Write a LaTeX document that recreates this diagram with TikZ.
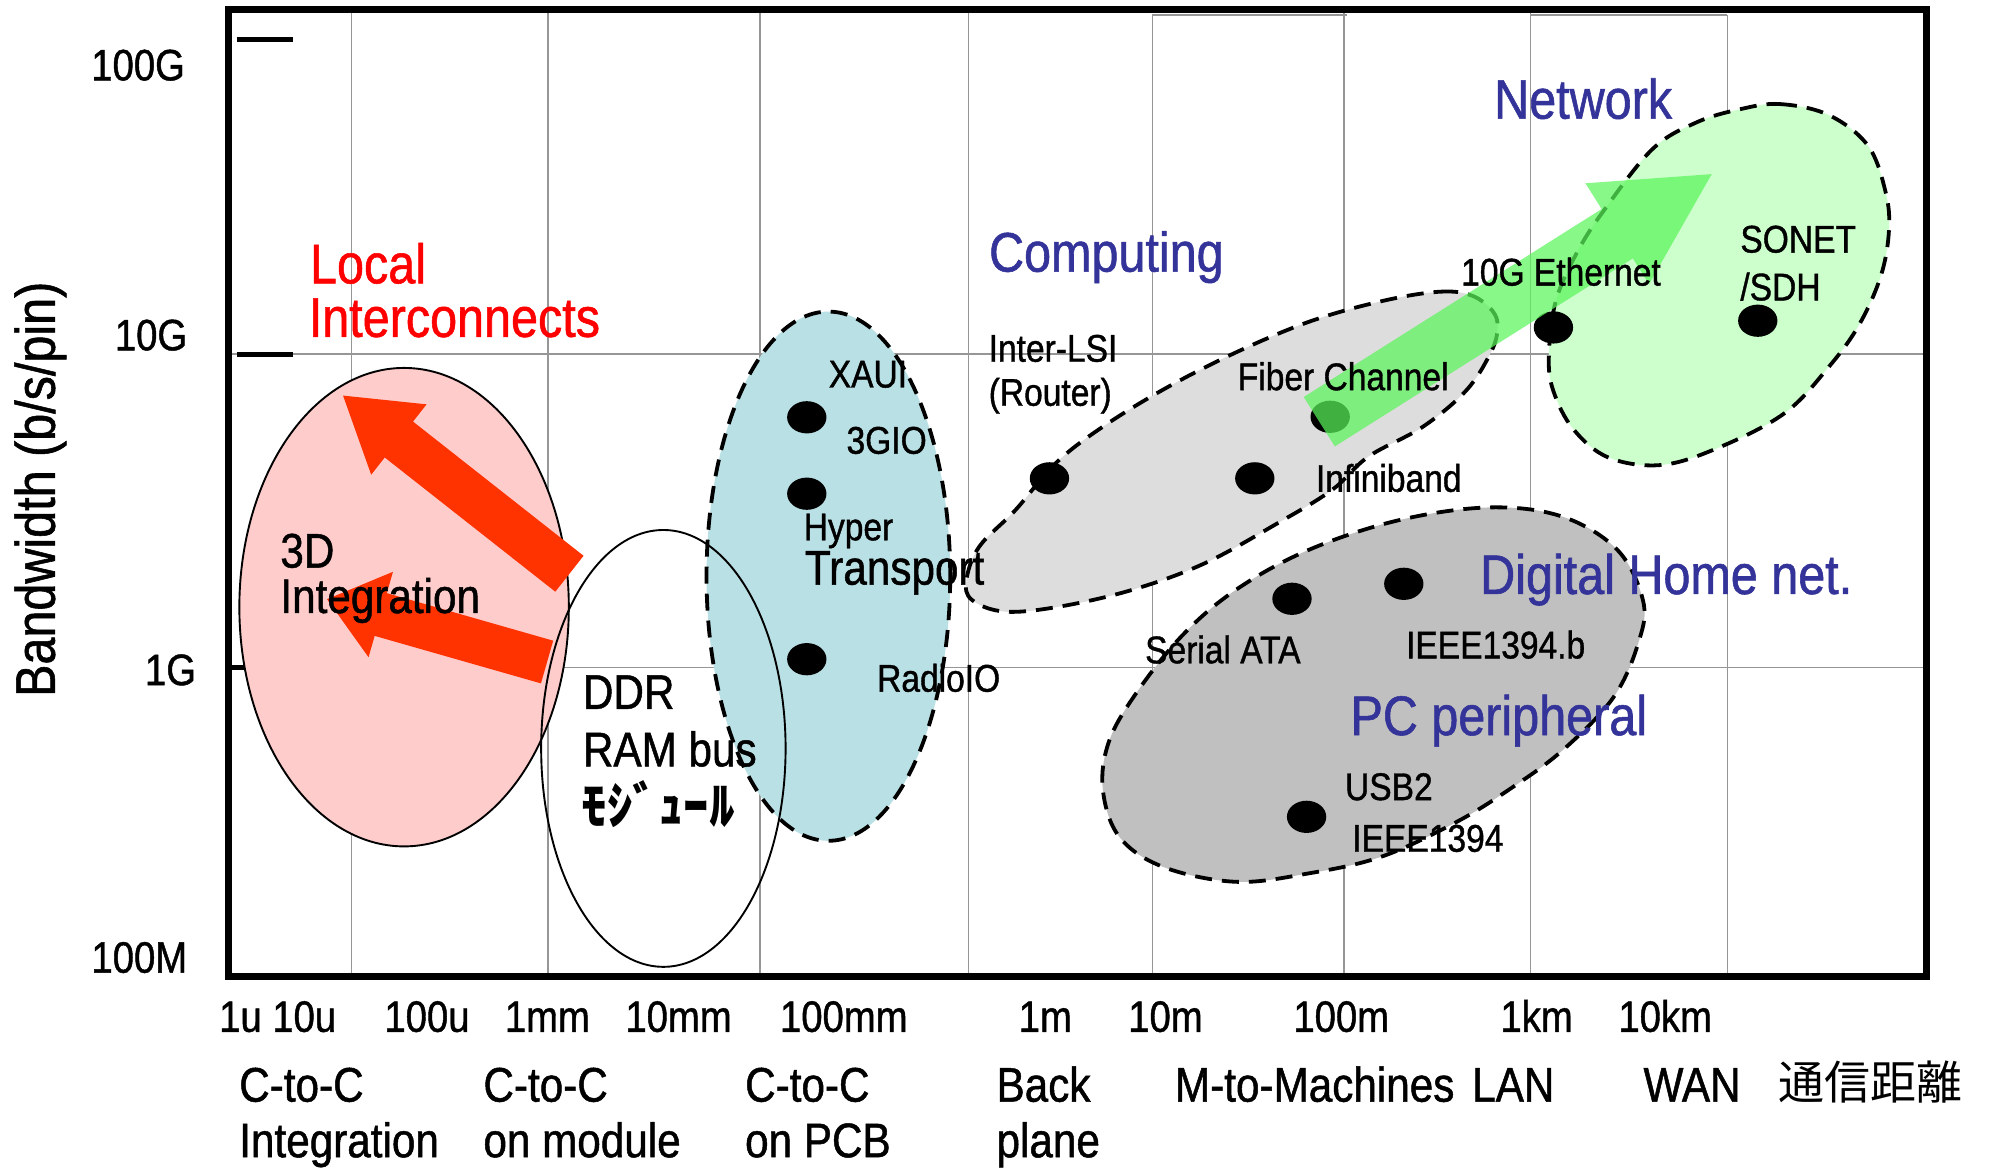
\documentclass[tikz,border=0pt]{standalone}
\usepackage{fontspec}
\setmainfont{Liberation Sans}[FakeStretch=0.87, FakeBold=1]
\newfontfamily\jpfont{Noto Sans CJK JP}
\definecolor{pinkfill}{RGB}{255,204,204}
\definecolor{bluefill}{RGB}{185,224,228}
\definecolor{lgrayfill}{RGB}{221,221,221}
\definecolor{dgrayfill}{RGB}{192,192,192}
\definecolor{greenfill}{RGB}{204,255,204}
\definecolor{arrowred}{RGB}{255,51,0}
\definecolor{arrowgreen}{RGB}{90,245,90}
\definecolor{labelblue}{RGB}{51,51,153}
\definecolor{labelred}{RGB}{255,0,0}
\definecolor{gridgray}{RGB}{150,150,150}
\tikzset{
  txt/.style={inner sep=0pt, anchor=base west},
  bigtxt/.style={txt, font=\fontsize{27.9}{31}\selectfont},
  midtxt/.style={txt, font=\fontsize{24.3}{27}\selectfont},
  smltxt/.style={txt, font=\fontsize{19.3}{22}\selectfont},
  numtxt/.style={txt, font=\fontsize{22}{25}\selectfont},
  ylab/.style={inner sep=0pt, anchor=base east, font=\fontsize{22}{25}\selectfont},
  zone/.style={draw=black, line width=1.9pt, dash pattern=on 8.5pt off 5pt},
  solidzone/.style={draw=black, line width=0.95pt},
  gridln/.style={draw=gridgray, line width=0.8pt},
  tickln/.style={draw=black, line width=2.4pt},
  dotmark/.style={fill=black},
  redarrow/.style={fill=arrowred},
  greenarrow/.style={fill=arrowgreen, fill opacity=0.72},
}
\begin{document}
\begin{tikzpicture}[x=0.635pt, y=-0.635pt]
\useasboundingbox (0,0) rectangle (1568,923);
% grid
\foreach \gx in {277,432,599,763,1059,1206} \draw[gridln] (\gx,8) -- (\gx,770);
\foreach \gx in {908,1361} \draw[gridln] (\gx,12) -- (\gx,770);
\draw[gridln] (908,12) -- (1061,12);
\draw[gridln] (1206,12) -- (1361,12);
\draw[gridln] (180,279) -- (1518,279);
\draw[gridln] (180,526) -- (1518,526);
% ticks
\draw[tickln] (186.5,31) -- (230.5,31);
\draw[tickln] (186.5,279.5) -- (230.5,279.5);
\draw[tickln] (180,526) -- (230.5,526);
% zones
\filldraw[fill=pinkfill, solidzone] (318.4,478.4) ellipse [x radius=129.8, y radius=188.5];
\filldraw[fill=bluefill, zone] (652.7,454) ellipse [x radius=96, y radius=208.5];
\filldraw[fill=lgrayfill, zone] plot[smooth cycle, tension=0.6] coordinates {
 (1092.6,236.4) (1135.5,229.8) (1160,233) (1176,245) (1180,258) (1175,277) (1155.6,307.3)
 (1121.2,336.2) (1078.2,359.8) (1049.6,386) (1006.6,412.3) (949.3,443.8) (892,464.8)
 (834.6,478) (791.6,481.9) (765.8,472.7) (761.5,457) (771.6,430.7) (800.2,401.8)
 (831.8,365) (869,336.2) (920.6,304.7) (977.9,275.8) (1035.2,252.2)};
\filldraw[fill=dgrayfill, zone] plot[smooth cycle, tension=0.6] coordinates {
 (1102.5,409.8) (1174.2,399.8) (1231.4,407.2) (1274.5,433.4) (1294.5,472.8) (1291.6,504.3)
 (1271.6,549) (1231.4,591) (1188.5,622.5) (1145.5,648.8) (1088.2,675.1) (1030.9,688.2)
 (973.6,694.8) (916.3,683) (881.9,659.3) (869,622.5) (873.3,585.7) (893.3,549)
 (930.6,501.7) (973.6,464.9) (1030.9,433.4)};
\filldraw[fill=greenfill, zone] plot[smooth cycle, tension=0.6] coordinates {
 (1371.3,86) (1402.5,82) (1440.6,90.5) (1471.7,114.6) (1485.6,150.8) (1488.4,181)
 (1482.1,217) (1464.8,256) (1440.6,289.5) (1405.9,325.7) (1353.9,352.8) (1308.8,366.4)
 (1267.2,360.4) (1239.4,337.8) (1223.8,307.6) (1220.4,280.5) (1225.6,238.2)
 (1242,200) (1263.7,165.9) (1301.9,117.6) (1336.6,96.5)};
% dots
\foreach \dx/\dy in {635.7/328.8, 635.7/389, 635.7/519.4, 826.9/376.9, 988.7/376.9,
  1048.1/328.4, 1018/471.8, 1106.1/460, 1029.5/643.6, 1224/258, 1385/252.7}
  \fill[dotmark] (\dx,\dy) ellipse [x radius=15.5, y radius=12.7];
% red arrows
\begin{scope}[shift={(270.3,311.7)}, rotate=-38.2]
  \fill[redarrow] (0,0) -- (56,35.3) -- (56,18) -- (227,18) -- (227,-18) -- (56,-18) -- (56,-35.3) -- cycle;
\end{scope}
\begin{scope}[shift={(257.7,472.1)}, rotate=-15.95]
  \fill[redarrow] (0,0) -- (44,35) -- (44,17.5) -- (180.3,17.5) -- (180.3,-17.5) -- (44,-17.5) -- (44,-35) -- cycle;
\end{scope}
% green arrow
\begin{scope}[shift={(1348.7,137.2)}, rotate=-147.75]
  \fill[greenarrow] (0,0) -- (88,47) -- (88,23) -- (365.6,23) -- (365.6,-23) -- (88,-23) -- (88,-47) -- cycle;
\end{scope}
% DDR outline
\draw[solidzone] (522.7,589.7) ellipse [x radius=96.3, y radius=172.1];
% frame
\draw[line width=3.5pt] (180.3,7.5) rectangle (1517.8,769.6);
% axis label
\node[inner sep=0pt, rotate=90, font=\fontsize{27.9}{31}\selectfont] (ylabel) at (31.8,385.5) {Bandwidth (b/s/pin)};
% y tick labels
\node[ylab] (y100G) at (146,63.3) {100G};
\node[ylab] (y10G) at (147.8,276) {10G};
\node[ylab] (y1G) at (154.8,539.8) {1G};
\node[ylab] (y100M) at (147.8,766.4) {100M};
% x tick labels
\node[numtxt] (x1u) at (172.4,813) {1u 10u};
\node[numtxt] (x100u) at (302.6,813) {100u};
\node[numtxt] (x1mm) at (397.5,813) {1mm};
\node[numtxt] (x10mm) at (492.5,813) {10mm};
\node[numtxt] (x100mm) at (614.3,813) {100mm};
\node[numtxt] (x1m) at (802.4,813) {1m};
\node[numtxt] (x10m) at (888.7,813) {10m};
\node[numtxt] (x100m) at (1018.8,813) {100m};
\node[numtxt] (x1km) at (1182,813) {1km};
\node[numtxt] (x10km) at (1274.9,813) {10km};
% categories
\node[midtxt] (cat1a) at (188.2,868) {C-to-C};
\node[midtxt] (cat1b) at (188.2,911.8) {Integration};
\node[midtxt] (cat2a) at (380.6,868) {C-to-C};
\node[midtxt] (cat2b) at (380.6,911.8) {on module};
\node[midtxt] (cat3a) at (586.8,868) {C-to-C};
\node[midtxt] (cat3b) at (586.8,911.8) {on PCB};
\node[midtxt] (cat4a) at (784.9,868) {Back};
\node[midtxt] (cat4b) at (784.9,911.8) {plane};
\node[midtxt] (cat5) at (925.5,868) {M-to-Machines};
\node[midtxt] (cat6) at (1159.7,868) {LAN};
\node[midtxt] (cat7) at (1294.7,868) {WAN};
\node[inner sep=0pt, anchor=west, font=\jpfont\fontsize{23}{26}\selectfont] (dist) at (1400.7,852.4) {通信距離};
% region labels
\node[bigtxt, text=labelred] (loc1) at (244,223.2) {Local};
\node[bigtxt, text=labelred] (loc2) at (243,265.4) {Interconnects};
\node[bigtxt, text=labelblue] (comp) at (779,214) {Computing};
\node[bigtxt, text=labelblue] (net) at (1177,93.5) {Network};
\node[bigtxt, text=labelblue] (home) at (1166,468) {Digital Home net.};
\node[bigtxt, text=labelblue] (pcp) at (1063.8,579.2) {PC peripheral};
\node[midtxt] (int3a) at (220.6,447.2) {3D};
\node[midtxt] (int3b) at (220.6,483) {Integration};
\node[midtxt] (ddr1) at (459,558.5) {DDR};
\node[midtxt] (ddr2) at (459,603.8) {RAM bus};
\node[txt, font=\jpfont\bfseries\fontsize{25.5}{28}\selectfont] (ddr3) at (458,650) {ﾓｼﾞｭｰﾙ};
% point labels
\node[smltxt] (xaui) at (652.7,305.3) {XAUI};
\node[smltxt] (gio) at (666.7,357.5) {3GIO};
\node[smltxt] (hyp) at (633,425.7) {Hyper};
\node[midtxt] (trans) at (634,460.6) {Transport};
\node[smltxt] (radio) at (690.8,545) {RadioIO};
\node[smltxt] (lsi1) at (778.7,285) {Inter-LSI};
\node[smltxt] (lsi2) at (778.7,319.7) {(Router)};
\node[smltxt] (fiber) at (975,307.4) {Fiber Channel};
\node[smltxt] (infini) at (1036.6,387.5) {Infiniband};
\node[smltxt] (eth) at (1151,225) {10G Ethernet};
\node[smltxt] (sonet1) at (1371,199) {SONET};
\node[smltxt] (sonet2) at (1371,236.7) {/SDH};
\node[smltxt] (sata) at (902,522.6) {Serial ATA};
\node[smltxt] (ieeeb) at (1107.6,518.8) {IEEE1394.b};
\node[smltxt] (usb) at (1059.5,630.4) {USB2};
\node[smltxt] (ieee) at (1065.2,671.1) {IEEE1394};
\end{tikzpicture}
\end{document}
